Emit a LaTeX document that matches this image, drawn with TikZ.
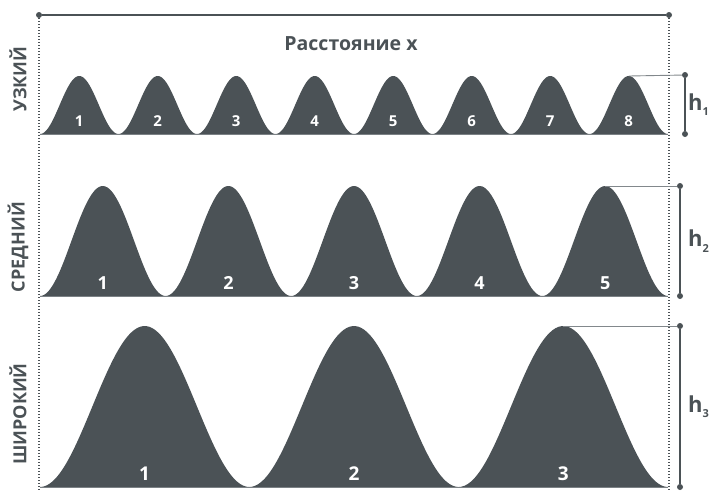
\documentclass[tikz,border=0pt]{standalone}
\usepackage{fontspec}
\setmainfont{Open Sans}
\usetikzlibrary{positioning}
\tikzstyle{canvas} = [x = 1pt, y = -1pt]
\definecolor{bumpColor}{RGB}{75,82,86}
\definecolor{guideColor}{RGB}{130,136,140}
\tikzstyle{bumpStyle} = [fill=bumpColor, draw=none]
\tikzstyle{bumpNumber} = [text=white, font=\bfseries, inner sep=0pt]
\tikzstyle{rowLabel} = [text=bumpColor, font=\bfseries\fontsize{18}{18}\selectfont, rotate=90, inner sep=0pt]
\tikzstyle{endDot} = [circle, fill=bumpColor, inner sep=0pt, minimum size=6pt]
\tikzstyle{heightLine} = [color=bumpColor, line width=1.6pt]
\tikzstyle{guideLine} = [color=guideColor, line width=0.9pt]
\tikzstyle{dotLine} = [color=bumpColor, line width=1.2pt, dash pattern=on 1.2pt off 1.8pt]
\tikzstyle{heightText} = [text=bumpColor, font=\bfseries\fontsize{22}{22}\selectfont, inner sep=0pt]
\newcommand{\bump}[7]{
  \fill [bumpStyle] plot [domain=0:1, samples=70, smooth]
    ({#2 + #3 * \x}, {#4 - #5 * (1 - cos(360 * \x)) / 2}) -- cycle;
  \node [bumpNumber, font=\bfseries\fontsize{#7}{#7}\selectfont] (#1) at (#2 + #3 / 2, #4 - 13) {#6};
}
\newcommand{\bumpRow}[5]{
  \pgfmathsetmacro{\bumpWidth}{628 / #2}
  \draw [guideLine] (40, #3) -- (668, #3);
  \foreach \i in {1,...,#2} {
    \pgfmathsetmacro{\bumpLeft}{40 + (\i - 1) * \bumpWidth}
    \bump{#1\i}{\bumpLeft}{\bumpWidth}{#3}{#4}{\i}{#5}
  }
  \pgfmathsetmacro{\peakX}{40 + (#2 - 0.5) * \bumpWidth}
  \coordinate (#1peak) at (\peakX, #3 - #4);
}
\newcommand{\heightBar}[5]{
  \node [endDot] (#1top) at (#2, #3 - #4) {};
  \node [endDot] (#1bottom) at (#2, #3) {};
  \draw [guideLine] (#1peak) -- (#1top);
  \draw [heightLine] (#1top) -- (#1bottom);
  \node [heightText, anchor=west] (#1label) at (688, #3 - #4 / 2) {h\raisebox{-0.45ex}{\fontsize{11}{11}\selectfont #5}};
}

\begin{document}
\begin{tikzpicture}[canvas]
  \useasboundingbox (0, 0) rectangle (710, 491);
  \node [endDot] (distLeft) at (39, 15) {};
  \node [endDot] (distRight) at (669, 15) {};
  \coordinate (leftFoot) at (39, 490);
  \coordinate (rightFoot) at (669, 491);
  \draw [dotLine] (distLeft) -- (leftFoot);
  \draw [dotLine] (distRight) -- (rightFoot);
  \draw [heightLine] (distLeft) -- (distRight);
  \node [heightText, font=\bfseries\fontsize{19.5}{19.5}\selectfont] (distLabel) at (351, 44) {Расстояние x};
  % rows of bumps
  \bumpRow{narrow}{8}{134}{58}{15}
  \bumpRow{middle}{5}{296}{110}{18}
  \bumpRow{wide}{3}{487}{161}{19}
  \heightBar{narrow}{685}{134}{59}{1}
  \heightBar{middle}{680}{296}{110}{2}
  \heightBar{wide}{680}{487}{161}{3}
  \node [rowLabel] (narrowName) at (18, 79) {УЗКИЙ};
  \node [rowLabel] (middleName) at (18, 247) {СРЕДНИЙ};
  \node [rowLabel] (wideName) at (18, 414) {ШИРОКИЙ};
\end{tikzpicture}
\end{document}
